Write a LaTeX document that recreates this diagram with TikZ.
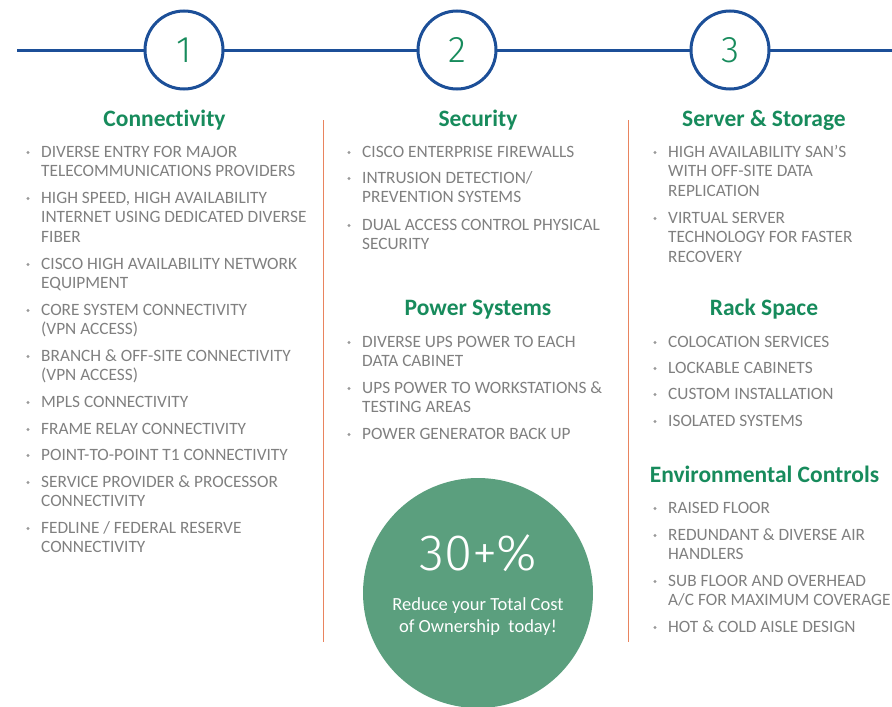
\documentclass[tikz,border=0pt]{standalone}
\usepackage{fontspec}
\setmainfont{Carlito}[Ligatures={NoCommon}]
\newfontfamily\numfont{Fira Sans Light}
\definecolor{lineblue}{HTML}{1C4F98}
\definecolor{headgreen}{HTML}{178B5C}
\definecolor{sepor}{HTML}{E9845F}
\definecolor{txtgray}{HTML}{808080}
\definecolor{circgreen}{HTML}{5B9F7E}
\tikzset{
  stepcirc/.style={circle,draw=lineblue,line width=3pt,fill=white,minimum size=78pt,inner sep=0pt,text=headgreen,font=\numfont\fontsize{37}{37}\selectfont},
  head/.style={text=headgreen,font=\bfseries\fontsize{23.5}{26}\selectfont,inner sep=0pt,anchor=base},
  item/.style={text=txtgray,font=\fontsize{17.3}{19.5}\selectfont,inner sep=0pt,anchor=base west,align=left},
  dot/.style={circle,fill=txtgray!80,inner sep=0pt,minimum size=3.2pt},
  sep/.style={draw=sepor,line width=1pt},
}
% #1 name, #2 x, #3 y (centre of first line), #4 number of lines, #5 text
\newcommand{\itm}[5]{\node[item] (#1) at (#2,#3+6+19.5*#4-19.5) {#5};\node[dot] (#1d) at (#2-13,#3+1.5) {};}
\begin{document}
\begin{tikzpicture}[x=1pt,y=-1pt]
\useasboundingbox (0,0) rectangle (892,707);
% timeline
\coordinate (ls) at (17,50);
\coordinate (le) at (892,50);
\draw[lineblue,line width=3pt] (ls) -- (le);
\node[stepcirc] (c1) at (184,50) {1};
\node[stepcirc] (c2) at (457,50) {2};
\node[stepcirc] (c3) at (730,50) {3};
% separators
\coordinate (s1a) at (323,120); \coordinate (s1b) at (323,642);
\coordinate (s2a) at (628,120); \coordinate (s2b) at (628,642);
\draw[sep] (s1a) -- (s1b);
\draw[sep] (s2a) -- (s2b);
% column 1
\node[head] (h1) at (164.5,126) {Connectivity};
\itm{a1}{41}{151}{2}{DIVERSE ENTRY FOR MAJOR\\TELECOMMUNICATIONS PROVIDERS}
\itm{a2}{41}{197}{3}{HIGH SPEED, HIGH AVAILABILITY\\INTERNET USING DEDICATED DIVERSE\\FIBER}
\itm{a3}{41}{263}{2}{CISCO HIGH AVAILABILITY NETWORK\\EQUIPMENT}
\itm{a4}{41}{309}{2}{CORE SYSTEM CONNECTIVITY\\(VPN ACCESS)}
\itm{a5}{41}{355}{2}{BRANCH \& OFF-SITE CONNECTIVITY\\(VPN ACCESS)}
\itm{a6}{41}{401}{1}{MPLS CONNECTIVITY}
\itm{a7}{41}{428}{1}{FRAME RELAY CONNECTIVITY}
\itm{a8}{41}{454}{1}{POINT-TO-POINT T1 CONNECTIVITY}
\itm{a9}{41}{481}{2}{SERVICE PROVIDER \& PROCESSOR\\CONNECTIVITY}
\itm{a10}{41}{527}{2}{FEDLINE / FEDERAL RESERVE\\CONNECTIVITY}
% column 2
\node[head] (h2) at (478,126) {Security};
\itm{b1}{362}{151}{1}{CISCO ENTERPRISE FIREWALLS}
\itm{b2}{362}{177}{2}{INTRUSION DETECTION/\\PREVENTION SYSTEMS}
\itm{b3}{362}{224}{2}{DUAL ACCESS CONTROL PHYSICAL\\SECURITY}
\node[head] (h3) at (478,315) {Power Systems};
\itm{b4}{362}{341}{2}{DIVERSE UPS POWER TO EACH\\DATA CABINET}
\itm{b5}{362}{387}{2}{UPS POWER TO WORKSTATIONS \&\\TESTING AREAS}
\itm{b6}{362}{433}{1}{POWER GENERATOR BACK UP}
% big circle
\fill[circgreen] (478,593) circle (115);
\node[text=white,font=\numfont\fontsize{51}{51}\selectfont,inner sep=0pt] (pct) at (478,553) {30+\%};
\node[text=white,font=\fontsize{18.5}{22}\selectfont,inner sep=0pt,align=center] (tco) at (478,617) {Reduce your Total Cost\\of Ownership\ \ today!};
% column 3
\node[head] (h4) at (764,126) {Server \& Storage};
\itm{c1i}{668}{151}{3}{HIGH AVAILABILITY SAN'S\\WITH OFF-SITE DATA\\REPLICATION}
\itm{c2i}{668}{217}{3}{VIRTUAL SERVER\\TECHNOLOGY FOR FASTER\\RECOVERY}
\node[head] (h5) at (764,315) {Rack Space};
\itm{c3i}{668}{341}{1}{COLOCATION SERVICES}
\itm{c4i}{668}{367}{1}{LOCKABLE CABINETS}
\itm{c5i}{668}{393}{1}{CUSTOM INSTALLATION}
\itm{c6i}{668}{420}{1}{ISOLATED SYSTEMS}
\node[head] (h6) at (764.5,482) {Environmental Controls};
\itm{c7i}{668}{507}{1}{RAISED FLOOR}
\itm{c8i}{668}{534}{2}{REDUNDANT \& DIVERSE AIR\\HANDLERS}
\itm{c9i}{668}{580}{2}{SUB FLOOR AND OVERHEAD\\A/C FOR MAXIMUM COVERAGE}
\itm{c10i}{668}{626}{1}{HOT \& COLD AISLE DESIGN}
\end{tikzpicture}
\end{document}
